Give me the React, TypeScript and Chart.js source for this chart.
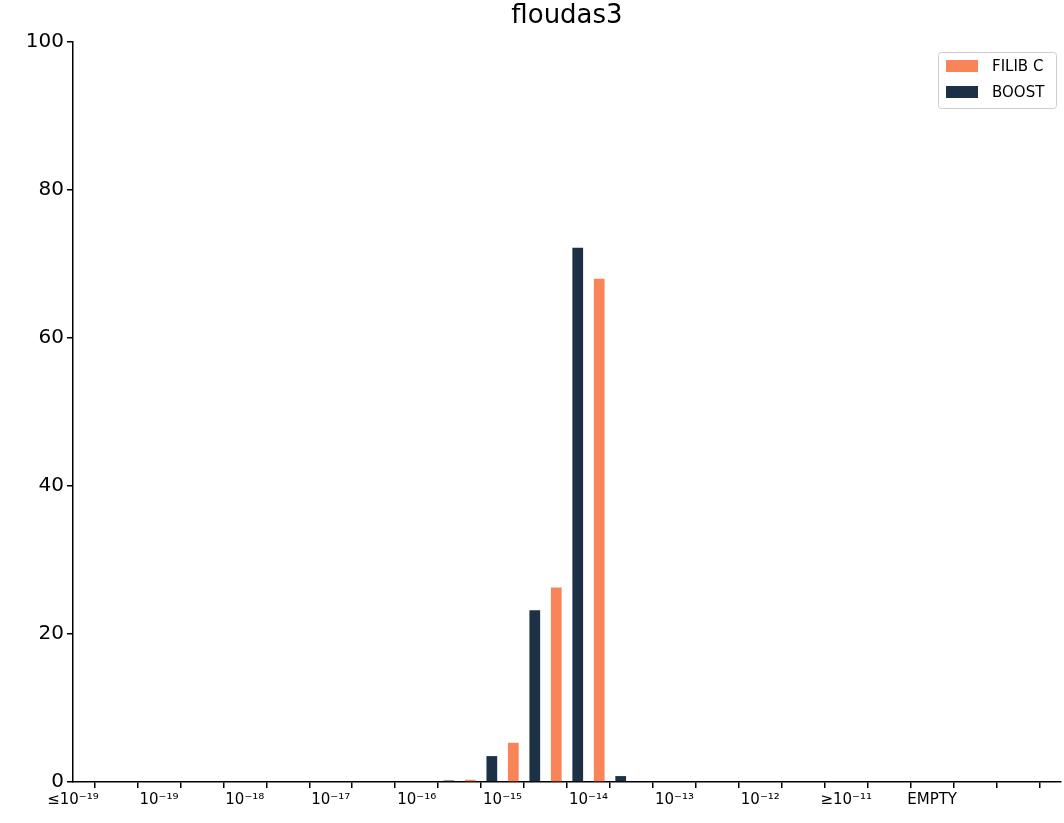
import { useEffect, useRef } from 'react';
import { Chart, registerables } from 'chart.js';

Chart.register(...registerables);

const sup = (s: string) => s.replace(/-/g, '⁻').replace(/\d/g, (d) => '⁰¹²³⁴⁵⁶⁷⁸⁹'[+d]);
const tickLabels = [
  '≤10' + sup('-19'), '10' + sup('-19'), '10' + sup('-18'), '10' + sup('-17'), '10' + sup('-16'),
  '10' + sup('-15'), '10' + sup('-14'), '10' + sup('-13'), '10' + sup('-12'), '≥10' + sup('-11'), 'EMPTY',
];
// half-decade bins, 24 slots
const categories = Array.from({ length: 24 }, (_, k) => (k % 2 === 0 && k / 2 < tickLabels.length ? tickLabels[k / 2] : ''));
const boost = [0, 0, 0, 0, 0, 0, 0, 0, 0, 0.2, 3.5, 23.2, 72.2, 0.8, 0, 0, 0, 0, 0, 0, 0, 0, 0, 0];
const filib = [0, 0, 0, 0, 0, 0, 0, 0, 0, 0.3, 5.3, 26.3, 68, 0, 0, 0, 0, 0, 0, 0, 0, 0, 0, 0];

const overlay = {
  id: 'overlay',
  afterDraw(chart: any) {
    const { ctx, chartArea } = chart;
    ctx.save();
    ctx.fillStyle = '#000';
    ctx.font = '26px "DejaVu Sans"';
    ctx.textAlign = 'center';
    ctx.textBaseline = 'middle';
    ctx.fillText('floudas3', (chartArea.left + chartArea.right) / 2, 16);
    // legend
    const x0 = 938, y0 = 52;
    ctx.fillStyle = 'rgba(255,255,255,0.8)';
    ctx.strokeStyle = '#ccc';
    ctx.lineWidth = 1;
    ctx.beginPath();
    ctx.roundRect(x0 + 0.5, y0 + 0.5, 118, 56, 3);
    ctx.fill();
    ctx.stroke();
    const items = [chart.data.datasets[1], chart.data.datasets[0]];
    ctx.font = '15px "DejaVu Sans"';
    ctx.textAlign = 'left';
    items.forEach((d: any, i: number) => {
      const y = y0 + 14 + i * 26;
      ctx.fillStyle = d.backgroundColor;
      ctx.fillRect(x0 + 8, y - 6, 32, 12);
      ctx.fillStyle = '#000';
      ctx.fillText(d.label, x0 + 54, y + 1);
    });
    ctx.restore();
  },
};

export default function App() {
  const ref = useRef<HTMLCanvasElement>(null);
  useEffect(() => {
    document.body.style.margin = '0';
    const chart = new Chart(ref.current!, {
      type: 'bar',
      data: {
        labels: categories,
        datasets: [
          { label: 'BOOST', data: boost, backgroundColor: '#1d3146', barPercentage: 0.5, categoryPercentage: 1 },
          { label: 'FILIB C', data: filib, backgroundColor: '#f98457', barPercentage: 0.5, categoryPercentage: 1 },
        ],
      },
      options: {
        animation: false,
        responsive: false,
        layout: { padding: { top: 42, right: 2, left: 0, bottom: 0 } },
        plugins: { legend: { display: false }, title: { display: false }, tooltip: { enabled: false } },
        scales: {
          x: {
            offset: false,
            grid: { drawOnChartArea: false, tickLength: 6, color: '#000', lineWidth: 1.5 },
            border: { color: '#000', width: 1.5 },
            ticks: {
              autoSkip: false,
              maxRotation: 0,
              color: '#000',
              font: { size: 15, family: 'DejaVu Sans' },
              callback: (v: any, i: number) => categories[i],
            },
            afterFit: (s: any) => { s.height = 41; },
          },
          y: {
            min: 0,
            max: 100,
            ticks: { stepSize: 20, color: '#000', font: { size: 20, family: 'DejaVu Sans' } },
            grid: { drawOnChartArea: false, tickLength: 6, color: '#000', lineWidth: 1.5 },
            border: { color: '#000', width: 1.5 },
            afterFit: (s: any) => { s.width = 73; },
          },
        },
      },
      plugins: [overlay],
    });
    return () => chart.destroy();
  }, []);
  return <canvas ref={ref} width={1064} height={823} />;
}
